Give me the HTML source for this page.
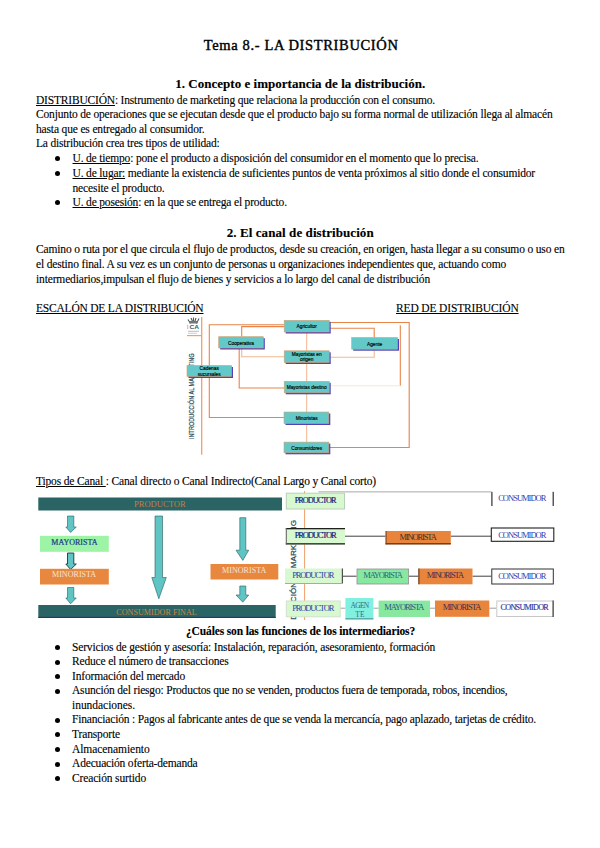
<!DOCTYPE html>
<html><head><meta charset="utf-8"><style>
html,body{margin:0;padding:0;background:#fff;}
body{width:600px;height:848px;position:relative;overflow:hidden;font-family:"Liberation Serif",serif;color:#000;}
.l{position:absolute;white-space:pre;line-height:20px;height:20px;-webkit-text-stroke:0.12px #000;}
.l u{text-decoration:underline;text-decoration-thickness:1px;text-underline-offset:1px;}
.b{position:absolute;width:5px;height:5px;border-radius:50%;background:#000;}
.d{position:absolute;}
</style></head><body>
<div class="l" id="l0" style="left:203.70px;top:35.00px;font-size:14.50px;font-weight:400;letter-spacing:0.643px;-webkit-text-stroke:0.4px #000">Tema 8.- LA DISTRIBUCIÓN</div>
<div class="l" id="l1" style="left:175.30px;top:74.31px;font-size:13.00px;font-weight:700;letter-spacing:0.017px">1. Concepto e importancia de la distribución.</div>
<div class="l" id="l2" style="left:36.00px;top:89.71px;font-size:11.50px;font-weight:400;letter-spacing:-0.185px"><u>DISTRIBUCIÓN</u>: Instrumento de marketing que relaciona la producción con el consumo.</div>
<div class="l" id="l3" style="left:36.00px;top:104.21px;font-size:11.50px;font-weight:400;letter-spacing:-0.164px">Conjunto de operaciones que se ejecutan desde que el producto bajo su forma normal de utilización llega al almacén</div>
<div class="l" id="l4" style="left:36.00px;top:118.71px;font-size:11.50px;font-weight:400;letter-spacing:-0.158px">hasta que es entregado al consumidor.</div>
<div class="l" id="l5" style="left:36.00px;top:133.31px;font-size:11.50px;font-weight:400;letter-spacing:-0.184px">La distribución crea tres tipos de utilidad:</div>
<div class="l" id="l6" style="left:72.50px;top:147.81px;font-size:11.50px;font-weight:400;letter-spacing:-0.172px"><u>U. de tiempo</u>: pone el producto a disposición del consumidor en el momento que lo precisa.</div>
<div class="l" id="l7" style="left:72.50px;top:162.81px;font-size:11.50px;font-weight:400;letter-spacing:-0.168px"><u>U. de lugar:</u> mediante la existencia de suficientes puntos de venta próximos al sitio donde el consumidor</div>
<div class="l" id="l8" style="left:72.50px;top:177.60px;font-size:11.50px;font-weight:400;letter-spacing:-0.132px">necesite el producto.</div>
<div class="l" id="l9" style="left:72.50px;top:192.00px;font-size:11.50px;font-weight:400;letter-spacing:-0.168px"><u>U. de posesión</u>: en la que se entrega el producto.</div>
<div class="l" id="l10" style="left:226.70px;top:223.31px;font-size:13.00px;font-weight:700;letter-spacing:0.083px">2. El canal de distribución</div>
<div class="l" id="l11" style="left:36.00px;top:238.50px;font-size:11.50px;font-weight:400;letter-spacing:-0.157px">Camino o ruta por el que circula el flujo de productos, desde su creación, en origen, hasta llegar a su consumo o uso en</div>
<div class="l" id="l12" style="left:36.00px;top:253.50px;font-size:11.50px;font-weight:400;letter-spacing:-0.164px">el destino final. A su vez es un conjunto de personas u organizaciones independientes que, actuando como</div>
<div class="l" id="l13" style="left:36.00px;top:268.50px;font-size:11.50px;font-weight:400;letter-spacing:-0.146px">intermediarios,impulsan el flujo de bienes y servicios a lo largo del canal de distribución</div>
<div class="l" id="l14" style="left:36.00px;top:298.00px;font-size:11.50px;font-weight:400;letter-spacing:-0.206px"><u>ESCALÓN DE LA DISTRIBUCIÓN</u></div>
<div class="l" id="l15" style="left:396.00px;top:298.00px;font-size:11.50px;font-weight:400;letter-spacing:-0.140px"><u>RED DE DISTRIBUCIÓN</u></div>
<div class="l" id="l16" style="left:36.00px;top:470.71px;font-size:11.50px;font-weight:400;letter-spacing:-0.159px"><u>Tipos de Canal </u>: Canal directo o Canal Indirecto(Canal Largo y Canal corto)</div>
<div class="l" id="l17" style="left:186.00px;top:621.21px;font-size:11.50px;font-weight:700;letter-spacing:-0.140px">¿Cuáles son las funciones de los intermediarios?</div>
<div class="l" id="l18" style="left:72.00px;top:636.81px;font-size:11.50px;font-weight:400;letter-spacing:-0.164px">Servicios de gestión y asesoría: Instalación, reparación, asesoramiento, formación</div>
<div class="l" id="l19" style="left:72.00px;top:651.31px;font-size:11.50px;font-weight:400;letter-spacing:-0.172px">Reduce el número de transacciones</div>
<div class="l" id="l20" style="left:72.00px;top:665.81px;font-size:11.50px;font-weight:400;letter-spacing:-0.138px">Información del mercado</div>
<div class="l" id="l21" style="left:72.00px;top:680.31px;font-size:11.50px;font-weight:400;letter-spacing:-0.184px">Asunción del riesgo: Productos que no se venden, productos fuera de temporada, robos, incendios,</div>
<div class="l" id="l22" style="left:72.00px;top:694.50px;font-size:11.50px;font-weight:400;letter-spacing:-0.031px">inundaciones.</div>
<div class="l" id="l23" style="left:72.00px;top:709.31px;font-size:11.50px;font-weight:400;letter-spacing:-0.168px">Financiación : Pagos al fabricante antes de que se venda la mercancía, pago aplazado, tarjetas de crédito.</div>
<div class="l" id="l24" style="left:72.00px;top:724.00px;font-size:11.50px;font-weight:400;letter-spacing:-0.135px">Transporte</div>
<div class="l" id="l25" style="left:72.00px;top:738.81px;font-size:11.50px;font-weight:400;letter-spacing:-0.066px">Almacenamiento</div>
<div class="l" id="l26" style="left:72.00px;top:753.31px;font-size:11.50px;font-weight:400;letter-spacing:-0.177px">Adecuación oferta-demanda</div>
<div class="l" id="l27" style="left:72.00px;top:768.00px;font-size:11.50px;font-weight:400;letter-spacing:-0.142px">Creación surtido</div>
<div class="b" style="left:55.3px;top:156.1px"></div>
<div class="b" style="left:55.3px;top:171.1px"></div>
<div class="b" style="left:55.3px;top:200.3px"></div>
<div class="b" style="left:55.0px;top:645.1px"></div>
<div class="b" style="left:55.0px;top:659.6px"></div>
<div class="b" style="left:55.0px;top:674.1px"></div>
<div class="b" style="left:55.0px;top:688.6px"></div>
<div class="b" style="left:55.0px;top:717.6px"></div>
<div class="b" style="left:55.0px;top:732.3px"></div>
<div class="b" style="left:55.0px;top:747.1px"></div>
<div class="b" style="left:55.0px;top:761.6px"></div>
<div class="b" style="left:55.0px;top:776.3px"></div>
<svg class="d" style="left:0;top:0" width="600" height="848" viewBox="0 0 600 848">
<g id="d1">
 <!-- logo -->
 <g fill="none" stroke="#505858" stroke-width="1.1">
  <path d="M188 319.5 L190.5 323.5 M191 318 L193 322.5 M193.5 317.5 V322.5 M196 318 L194.5 322.5 M199 318.5 L196.5 323.5"/>
 </g>
 <rect x="189.5" y="321" width="8" height="2.5" fill="#707878"/>
 <rect x="187.3" y="324.8" width="0.9" height="4.3" fill="#f0a070"/>
 <text x="194.2" y="329" font-family="Liberation Sans" font-size="5.6" font-weight="700" fill="#2a6070" text-anchor="middle" textLength="9.5" lengthAdjust="spacingAndGlyphs">CA</text>
 <rect x="188" y="330.8" width="11" height="0.9" fill="#b0b4b4"/>
 <rect x="188" y="332.8" width="9" height="0.9" fill="#c4c8c8"/>
 <rect x="187" y="335" width="14.5" height="1.2" fill="#f0a070"/>
 <!-- vertical text -->
 <text transform="translate(194.2 439) rotate(-90)" font-family="Liberation Sans" font-size="7.2" fill="#2e4a58" stroke="#2e4a58" stroke-width="0.2" textLength="85.6" lengthAdjust="spacingAndGlyphs">INTRODUCCIÓN AL MARKETING</text>
 <!-- lines -->
 <path d="M201.7 317 V454.7" fill="none" stroke="#f0a070" stroke-width="1.3"/>
 <path d="M306.7 332 V442" fill="none" stroke="#f0a070" stroke-width="0.8"/>
 <g fill="none" stroke="#e8844a" stroke-width="1.1">
  <path d="M284.2 324.7 H209.3 V417.5 H284"/>
  <path d="M284.2 326.6 H241.7 V336.5"/>
  <path d="M239.2 348 V388 H284"/>
  <path d="M329.2 322.5 H409.2 V447.5 H329"/>
  <path d="M329.2 328.3 H374.2 V337.5"/>
  <path d="M400.3 325.3 V385.8"/>
 </g>
 <g fill="none" stroke="#f2b890" stroke-width="1.1">
  <path d="M241.7 348 V356.7 H284"/>
  <path d="M374.2 349.2 V357.2 H329.2"/>
 </g>
 <path d="M400.3 385.8 H329.2" fill="none" stroke="#fbe6d4" stroke-width="1.1"/>
 <!-- boxes -->
 <g>
  <rect x="285.7" y="321.8" width="45" height="11.7" fill="#5242b4"/>
  <rect x="284.2" y="320.3" width="45" height="11.7" fill="#62c8c8" stroke="#d8a070" stroke-width="0.6"/>
  <rect x="220.2" y="338.2" width="44.6" height="11.3" fill="#5242b4"/>
  <rect x="218.7" y="336.7" width="44.6" height="11.3" fill="#62c8c8" stroke="#d8a070" stroke-width="0.6"/>
  <rect x="353.2" y="339" width="45.8" height="11.7" fill="#5242b4"/>
  <rect x="351.7" y="337.5" width="45.8" height="11.7" fill="#62c8c8" stroke="#d8a070" stroke-width="0.6"/>
  <rect x="285.7" y="352.3" width="45" height="11.7" fill="#5242b4"/>
  <rect x="284.2" y="350.8" width="45" height="11.7" fill="#62c8c8" stroke="#d8a070" stroke-width="0.6"/>
  <rect x="188.5" y="367" width="44.5" height="11" fill="#5242b4"/>
  <rect x="187" y="365.5" width="44.5" height="11" fill="#62c8c8" stroke="#d8a070" stroke-width="0.6"/>
  <rect x="285.7" y="382.8" width="45" height="11.5" fill="#5242b4"/>
  <rect x="284.2" y="381.3" width="45" height="11.5" fill="#62c8c8" stroke="#d8a070" stroke-width="0.6"/>
  <rect x="285.5" y="413.5" width="44.8" height="11.5" fill="#5242b4"/>
  <rect x="284" y="412" width="44.8" height="11.5" fill="#62c8c8" stroke="#d8a070" stroke-width="0.6"/>
  <rect x="285.5" y="443.6" width="44.8" height="10.7" fill="#5242b4"/>
  <rect x="284" y="442.1" width="44.8" height="10.7" fill="#62c8c8" stroke="#d8a070" stroke-width="0.6"/>
 </g>
 <g font-family="Liberation Sans" font-size="4.8" fill="#000" stroke="#000" stroke-width="0.15" text-anchor="middle">
  <text x="306.7" y="328.2">Agricultor</text>
  <text x="241" y="344.5">Cooperativa</text>
  <text x="374.6" y="345.5">Agente</text>
  <text x="306.7" y="355.6">Mayoristas en</text>
  <text x="306.7" y="361">origen</text>
  <text x="209.2" y="370.2">Cadenas</text>
  <text x="209.2" y="375.5">sucursales</text>
  <text x="306.7" y="389.2">Mayoristas destino</text>
  <text x="306.7" y="419.8">Minoristas</text>
  <text x="306.7" y="449.5">Consumidores</text>
 </g>
</g>
<g id="d2">
 <!-- left diagram -->
 <rect x="38.3" y="497.5" width="243.7" height="13" fill="#2b6464"/>
 <text x="134" y="506.7" font-family="Liberation Serif" font-size="8" fill="#c87c48" textLength="51.6" lengthAdjust="spacingAndGlyphs">PRODUCTOR</text>
 <rect x="38.3" y="605" width="237.4" height="12.8" fill="#2b6464"/>
 <rect x="38.3" y="616.8" width="237.4" height="1.2" fill="#203a6a"/>
 <text x="116.3" y="614.5" font-family="Liberation Serif" font-size="8" fill="#c88848" textLength="80.5" lengthAdjust="spacingAndGlyphs">CONSUMIDOR FINAL</text>
 <g fill="#5ec4c4" stroke="#2a5a5a" stroke-width="0.6">
  <path d="M67.5 516 H73.8 V527 H76.3 L70.6 532.5 L65.8 527 H67.5 Z"/>
  <path d="M67.5 553 H73.8 V564 H76.3 L70.6 569.5 L65.8 564 H67.5 Z" stroke="#183838" stroke-width="0.9"/>
  <path d="M67.5 587.5 H73.8 V598 H76.3 L70.6 603.8 L65.8 598 H67.5 Z"/>
  <path d="M155 516 H162.5 V577.5 H166.3 L158.8 598.8 L151.8 577.5 H155 Z"/>
  <path d="M239.8 517.7 H245.8 V550.2 H248.7 L242.8 560.4 L236 550.2 H239.8 Z"/>
  <path d="M239.8 586 H245.8 V595 H248.7 L242.8 602.2 L236 595 H239.8 Z"/>
 </g>
 <rect x="40" y="535.8" width="68.8" height="16" fill="#9ef4a6"/>
 <text x="51.3" y="545.2" font-family="Liberation Serif" font-size="7.4" fill="#1a3a8a" stroke="#1a3a8a" stroke-width="0.2" textLength="46.2" lengthAdjust="spacingAndGlyphs">MAYORISTA</text>
 <rect x="40" y="568.8" width="68.8" height="15.7" fill="#e8883e"/>
 <text x="52" y="577.2" font-family="Liberation Serif" font-size="7.4" fill="#f4e4d4" textLength="44.2" lengthAdjust="spacingAndGlyphs">MINORISTA</text>
 <rect x="210.5" y="564" width="67.8" height="15.5" fill="#e8883e"/>
 <text x="222" y="573.2" font-family="Liberation Serif" font-size="7.4" fill="#f4e4d4" textLength="44.4" lengthAdjust="spacingAndGlyphs">MINORISTA</text>

 <!-- right diagram -->
 <rect x="318.5" y="491" width="172.7" height="1.6" fill="#c8c8c8"/>
 <clipPath id="cp2"><rect x="280" y="488" width="30" height="132"/></clipPath>
 <g clip-path="url(#cp2)"><text transform="translate(295.8 645) rotate(-90)" font-family="Liberation Sans" font-size="8" fill="#345058" stroke="#345058" stroke-width="0.25" textLength="125" lengthAdjust="spacingAndGlyphs">INTRODUCCIÓN AL MARKETING</text></g>
 <rect x="304" y="491" width="1.1" height="129" fill="#f0a878"/>
 <g fill="none" stroke="#404040" stroke-width="1">
  <path d="M345 536.2 H385.6"/>
  <path d="M450.8 536.2 H491.3"/>
  <path d="M343 576.2 H356.6"/>
  <path d="M409 576.2 H418.4"/>
  <path d="M472.5 576.2 H491.3"/>
 </g>
 <g fill="none" stroke="#a0a0a0" stroke-width="1">
  <path d="M340.2 608.2 H345.4"/>
  <path d="M373.4 608.2 H378.6"/>
  <path d="M430 608.2 H435"/>
  <path d="M489.3 608.2 H496.3"/>
 </g>
 <!-- row1 -->
 <rect x="286.3" y="493.2" width="58.2" height="15.8" fill="#d8f8d0" stroke="#b8d0b8" stroke-width="1"/>
 <rect x="491.3" y="491.8" width="62.5" height="14.2" fill="#fff"/>
 <rect x="491.3" y="491.8" width="1.2" height="14.2" fill="#303030"/>
 <rect x="552.6" y="491.8" width="1.2" height="14.2" fill="#303030"/>
 <!-- row2 -->
 <rect x="285.8" y="528" width="59.2" height="16.5" fill="#d8f8d0"/>
 <rect x="285.8" y="528" width="59.2" height="1.3" fill="#202020"/>
 <rect x="285.8" y="543.2" width="59.2" height="1.3" fill="#202020"/>
 <rect x="285.8" y="528" width="1" height="16.5" fill="#606060"/>
 <rect x="385.6" y="531" width="65.2" height="13.4" fill="#e8843c"/>
 <rect x="385.6" y="543.2" width="65.2" height="1.2" fill="#503020"/>
 <rect x="385.6" y="531" width="1" height="13.4" fill="#804020"/>
 <rect x="491.3" y="528" width="62.5" height="13.3" fill="#fff" stroke="#202020" stroke-width="1.1"/>
 <!-- row3 -->
 <rect x="285" y="568.5" width="58" height="15.5" fill="#d8f8d0"/>
 <rect x="341.8" y="568.5" width="1.2" height="15.5" fill="#505050"/>
 <rect x="285" y="583" width="58" height="1" fill="#a0b0a0"/>
 <rect x="357" y="569" width="51.6" height="15" fill="#88e8a0" stroke="#909090" stroke-width="0.8"/>
 <rect x="418.4" y="568.5" width="54.1" height="15.8" fill="#e8843c"/>
 <rect x="418.4" y="568.5" width="1" height="15.8" fill="#503020"/>
 <rect x="491.8" y="569" width="61.5" height="15" fill="#fff" stroke="#303030" stroke-width="1"/>
 <!-- row4 -->
 <rect x="286.3" y="601" width="53.9" height="15.8" fill="#d8f8d0" stroke="#d0e0d0" stroke-width="1"/>
 <rect x="345.4" y="598" width="28" height="21.4" fill="#80f0e0"/>
 <rect x="345.4" y="618.2" width="28" height="1.2" fill="#50a0a0"/>
 <rect x="378.6" y="600.6" width="51.4" height="16.4" fill="#88e8a0"/>
 <rect x="435" y="600.5" width="54.3" height="16.3" fill="#e8843c"/>
 <rect x="496.8" y="601" width="56.5" height="15.5" fill="#fff" stroke="#c8c8c8" stroke-width="1"/>
 <rect x="552.5" y="600.5" width="1.2" height="16.5" fill="#404040"/>
 <g font-family="Liberation Serif" lengthAdjust="spacingAndGlyphs">
  <text x="294.7" y="502.6" fill="#101a78" stroke="#101a78" stroke-width="0.2" font-weight="400" font-size="8.2" textLength="41.8">PRODUCTOR</text>
  <text x="498.2" y="500.6" fill="#3040b0" font-weight="400" font-size="8.5" textLength="48.2">CONSUMIDOR</text>
  <text x="294.7" y="537.8" fill="#101a78" stroke="#101a78" stroke-width="0.2" font-weight="400" font-size="8.5" textLength="42.0">PRODUCTOR</text>
  <text x="399.5" y="540.3" fill="#403020" font-weight="400" font-size="8.5" textLength="37.3">MINORISTA</text>
  <text x="498.2" y="538.2" fill="#3040b0" font-weight="400" font-size="8.5" textLength="48.2">CONSUMIDOR</text>
  <text x="292.2" y="578.2" fill="#3040a8" font-weight="400" font-size="8.5" textLength="42.2">PRODUCTOR</text>
  <text x="363.3" y="578.4" fill="#2a6a78" font-weight="400" font-size="8.5" textLength="39.7">MAYORISTA</text>
  <text x="426.8" y="578.4" fill="#403050" font-weight="400" font-size="8.5" textLength="37.3">MINORISTA</text>
  <text x="498.2" y="579.3" fill="#3040b0" font-weight="400" font-size="8.5" textLength="48.2">CONSUMIDOR</text>
  <text x="292.2" y="610.6" fill="#3040a8" font-weight="400" font-size="8.5" textLength="42.2">PRODUCTOR</text>
  <text x="350.5" y="607.5" fill="#3a6a8a" font-weight="400" font-size="7.5" textLength="18.7">AGEN</text>
  <text x="355.2" y="616.5" fill="#3a6a8a" font-weight="400" font-size="7.5" textLength="9.3">TE</text>
  <text x="384.3" y="610.3" fill="#2a5a80" font-weight="400" font-size="8.5" textLength="40.2">MAYORISTA</text>
  <text x="442.7" y="610.3" fill="#403050" font-weight="400" font-size="8.5" textLength="38.6">MINORISTA</text>
  <text x="500.6" y="610.4" fill="#2838a0" stroke="#2838a0" stroke-width="0.15" font-weight="400" font-size="8.2" textLength="48.2">CONSUMIDOR</text>
</g>
</g>
</svg>
</body></html>
